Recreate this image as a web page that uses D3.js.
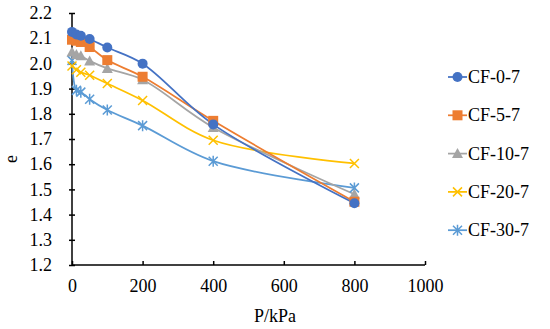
<html>
  <head>
    <script src="https://d3js.org/d3.v7.min.js"></script>
    <style>
      body {margin:0; background:white;}
      text {font-family: "Liberation Serif", "Times New Roman", serif; fill:#000;}
    </style>
  </head>
  <body>
    <div id="chart1"></div>
    <script>
      var pressure = [0, 12.5, 25, 50, 100, 200, 400, 800];
      var seriesNames = ["CF-0-7", "CF-5-7", "CF-10-7", "CF-20-7", "CF-30-7"];
      var cf0 = [2.125, 2.115, 2.11, 2.097, 2.063, 1.999, 1.758, 1.445];
      var cf5 = [2.094, 2.09, 2.085, 2.065, 2.013, 1.947, 1.772, 1.451];
      var cf10 = [2.045, 2.035, 2.03, 2.01, 1.98, 1.935, 1.746, 1.481];
      var cf20 = [1.99, 1.975, 1.965, 1.953, 1.92, 1.853, 1.695, 1.603];
      var cf30 = [2.012, 1.893, 1.886, 1.858, 1.815, 1.753, 1.612, 1.506];
      var xTicks = [0, 200, 400, 600, 800, 1000];
      var yTicks = [1.2, 1.3, 1.4, 1.5, 1.6, 1.7, 1.8, 1.9, 2.0, 2.1, 2.2];

      var allSeries = [cf0, cf5, cf10, cf20, cf30];
      var colors = ["#4472C4", "#ED7D31", "#A5A5A5", "#FFC000", "#5B9BD5"];
      var shapes = ["circle", "square", "triangle", "cross", "star"];

      var margin = {top: 13, left: 72},
          width = 353,
          height = 252;

      var svg = d3.select("#chart1")
        .append("svg")
          .attr("width", 550)
          .attr("height", 329)
          .attr("style", "background-color: white;");

      var g = svg.append("g")
        .attr("transform", "translate(" + margin.left + "," + margin.top + ")");

      var x = d3.scaleLinear().domain([0, 1000]).range([0, width]);
      var y = d3.scaleLinear().domain([1.2, 2.2]).range([height, 0]);

      // y axis with crossing ticks
      var yAxis = g.append("g")
        .attr("font-family", "Liberation Serif")
        .call(d3.axisLeft(y).tickValues(yTicks).tickSize(3).tickPadding(17).tickFormat(d3.format(".1f")));
      yAxis.attr("font-family", "Liberation Serif").attr("font-size", 18);
      yAxis.selectAll(".tick line").attr("x1", 3).attr("x2", -3).attr("stroke-width", 1.5);
      yAxis.select(".domain").attr("stroke-width", 1.5).attr("d", "M0," + height + "V0");

      // x axis with ticks pointing inward
      var xAxis = g.append("g")
        .attr("transform", "translate(0," + height + ")")
        .call(d3.axisBottom(x).tickValues(xTicks).tickSize(-4).tickPadding(14).tickFormat(d3.format("d")));
      xAxis.attr("font-family", "Liberation Serif").attr("font-size", 18);
      xAxis.select(".domain").attr("stroke-width", 1.5).attr("d", "M0,0H" + width);
      xAxis.selectAll(".tick line").attr("stroke-width", 1.5);

      svg.append("text")
        .attr("x", 275)
        .attr("y", 322)
        .attr("text-anchor", "middle")
        .style("font-size", "18px")
        .text("P/kPa");

      svg.append("text")
        .attr("transform", "translate(17,159) rotate(-90)")
        .attr("text-anchor", "middle")
        .style("font-size", "18px")
        .text("e");

      function drawMarker(sel, shape, color) {
        if (shape == "circle") {
          sel.append("circle").attr("r", 5).attr("fill", color);
        } else if (shape == "square") {
          sel.append("rect").attr("x", -5).attr("y", -5).attr("width", 10).attr("height", 10).attr("fill", color);
        } else if (shape == "triangle") {
          sel.append("path").attr("d", "M0,-5.5L5.5,4.5L-5.5,4.5Z").attr("fill", color);
        } else if (shape == "cross") {
          sel.append("path").attr("d", "M-4.5,-4.5L4.5,4.5M-4.5,4.5L4.5,-4.5")
            .attr("stroke", color).attr("stroke-width", 1.5).attr("fill", "none");
        } else {
          sel.append("path").attr("d", "M-4.5,-4.5L4.5,4.5M-4.5,4.5L4.5,-4.5M0,-5.5V5.5")
            .attr("stroke", color).attr("stroke-width", 1.5).attr("fill", "none");
        }
      }

      var line = d3.line()
        .x(function(d, i) { return x(pressure[i]); })
        .y(function(d) { return y(d); })
        .curve(d3.curveCatmullRom.alpha(0.5));

      for (var s = allSeries.length - 1; s >= 0; s--) {
        g.append("path")
          .datum(allSeries[s])
          .attr("d", line)
          .attr("fill", "none")
          .attr("stroke", colors[s])
          .attr("stroke-width", 1.75);
      }
      for (var s = allSeries.length - 1; s >= 0; s--) {
        allSeries[s].forEach(function(v, i) {
          var m = g.append("g").attr("transform", "translate(" + x(pressure[i]) + "," + y(v) + ")");
          drawMarker(m, shapes[s], colors[s]);
        });
      }

      // legend
      var legend = svg.append("g").attr("transform", "translate(448,77)");
      seriesNames.forEach(function(name, i) {
        var row = legend.append("g").attr("transform", "translate(0," + (i * 38.3) + ")");
        row.append("line").attr("x1", 0).attr("x2", 19).attr("stroke", colors[i]).attr("stroke-width", 1.75);
        var m = row.append("g").attr("transform", "translate(9.5,0)");
        drawMarker(m, shapes[i], colors[i]);
        row.append("text")
          .attr("x", 20)
          .attr("y", 6)
          .style("font-size", "18px")
          .text(name);
      });
    </script>
  </body>
</html>
